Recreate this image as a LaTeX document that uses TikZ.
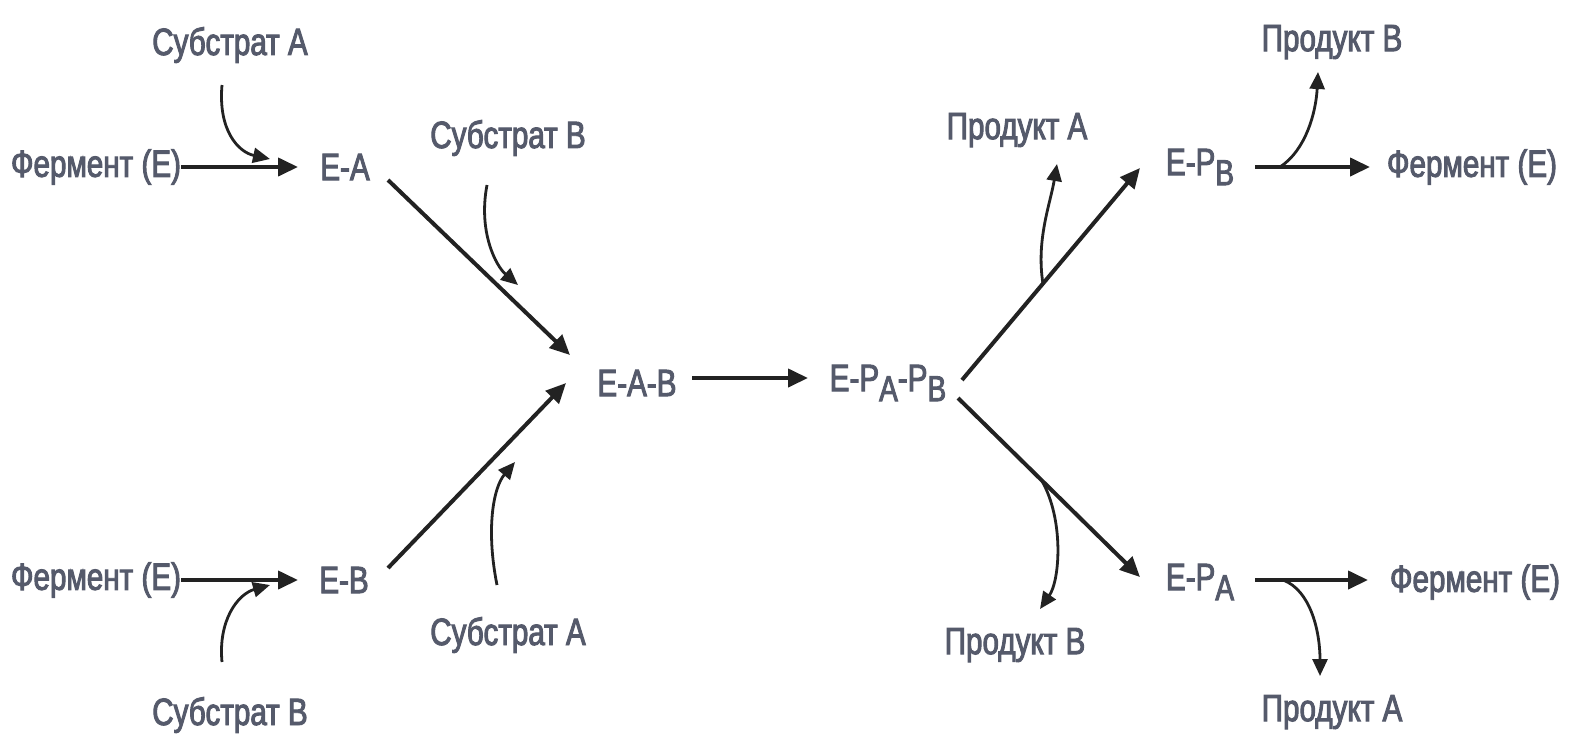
\documentclass[tikz,border=0pt]{standalone}
\usepackage{fontspec}
\newfontfamily\lblfont{Liberation Sans}[FakeStretch=0.78,FakeBold=2.5]
\usetikzlibrary{arrows.meta}
\definecolor{txt}{HTML}{555A6B}
\definecolor{arr}{HTML}{222222}
\newcommand{\sbs}[1]{\raisebox{-0.5ex}{\fontsize{18}{18}\selectfont #1}}
\begin{document}
\begin{tikzpicture}[x=0.5pt,y=-0.5pt,
  lbl/.style={text=txt,font=\lblfont\fontsize{19}{21}\selectfont,inner sep=0pt},
  main/.style={draw=arr,line width=2pt,-{Triangle[length=10pt,width=9pt]}},
  side/.style={draw=arr,line width=1.4pt,-{Triangle[length=8.5pt,width=7.5pt]}}]
\fill[white] (0,0) rectangle (1569,745);
\useasboundingbox (0,0) rectangle (1569,745);

% nodes
\node[lbl] (enzL1) at (96,167) {Фермент (Е)};
\node[lbl] (EA) at (345,167) {Е-А};
\node[lbl] (subA1) at (230,45) {Субстрат А};
\node[lbl] (subB1) at (508,138) {Субстрат В};
\node[lbl] (EAB) at (637,383) {Е-А-В};
\node[lbl] (EPP) at (888,383) {Е-Р\sbs{А}-Р\sbs{В}};
\node[lbl] (prodA1) at (1017,130) {Продукт А};
\node[lbl] (EPB) at (1200,167) {Е-Р\sbs{В}};
\node[lbl] (prodB1) at (1332,42) {Продукт В};
\node[lbl] (enzR1) at (1472,167) {Фермент (Е)};
\node[lbl] (enzL2) at (96,580) {Фермент (Е)};
\node[lbl] (EB) at (344,580) {Е-В};
\node[lbl] (subB2) at (230,715) {Субстрат В};
\node[lbl] (subA2) at (508,635) {Субстрат А};
\node[lbl] (prodB2) at (1015,645) {Продукт В};
\node[lbl] (EPA) at (1200,582) {Е-Р\sbs{А}};
\node[lbl] (enzR2) at (1475,582) {Фермент (Е)};
\node[lbl] (prodA2) at (1332,712) {Продукт А};

% main arrows
\draw[main] ([shift={(85,0)}]enzL1.center) -- ([shift={(-47,0)}]EA.center);
\draw[main] ([shift={(43,13)}]EA.center) -- ([shift={(-67,-28)}]EAB.center);
\draw[main] ([shift={(85,0)}]enzL2.center) -- ([shift={(-46,0)}]EB.center);
\draw[main] ([shift={(44,-12)}]EB.center) -- ([shift={(-71,0)}]EAB.center);
\draw[main] ([shift={(55,-5)}]EAB.center) -- ([shift={(-80,-5)}]EPP.center);
\draw[main] ([shift={(74,-3)}]EPP.center) -- ([shift={(-60,1)}]EPB.center);
\draw[main] ([shift={(70,15)}]EPP.center) -- ([shift={(-60,-5)}]EPA.center);
\draw[main] ([shift={(55,0)}]EPB.center) -- ([shift={(-102,0)}]enzR1.center);
\draw[main] ([shift={(55,-2)}]EPA.center) -- ([shift={(-107,-2)}]enzR2.center);

% curved side arrows
\coordinate (t1) at (270,159);
\coordinate (t2) at (518,285);
\coordinate (t3) at (270,585);
\coordinate (t4) at (515,462);
\coordinate (s5) at (1043,284);
\coordinate (s6) at (1280,167);
\coordinate (s7) at (1042,481);
\coordinate (s8) at (1283,580);

\draw[side] ([shift={(-8,40)}]subA1.center) .. controls (218,130) and (238,152) .. (t1);
\draw[side] ([shift={(-21,47)}]subB1.center) .. controls (478,232) and (496,266) .. (t2);
\draw[side] ([shift={(-8,-53)}]subB2.center) .. controls (218,620) and (238,594) .. (t3);
\draw[side] ([shift={(-11,-50)}]subA2.center) .. controls (486,530) and (493,488) .. (t4);
\draw[side] (s5) .. controls (1036,240) and (1050,205) .. ([shift={(40,34)}]prodA1.center);
\draw[side] (s6) .. controls (1306,150) and (1316,112) .. ([shift={(-14,30)}]prodB1.center);
\draw[side] (s7) .. controls (1064,520) and (1060,580) .. ([shift={(25,-36)}]prodB2.center);
\draw[side] (s8) .. controls (1310,590) and (1320,630) .. ([shift={(-12,-36)}]prodA2.center);
\end{tikzpicture}
\end{document}
